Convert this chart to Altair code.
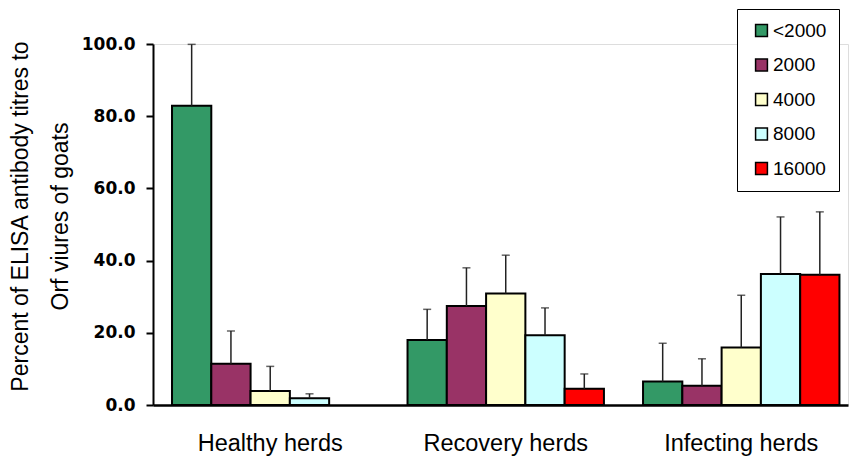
import altair as alt
import pandas as pd

# Percent of goats per ELISA antibody titre class, by herd status
groups = ["Healthy herds", "Recovery herds", "Infecting herds"]
titres = ["<2000", "2000", "4000", "8000", "16000"]
colors = ["#339966", "#993366", "#FFFFCC", "#CCFFFF", "#FF0000"]

healthy_mean = [82.9, 11.4, 3.9, 1.9, None]
healthy_sd = [17.0, 9.1, 6.8, 1.2, None]
recovery_mean = [18.0, 27.4, 30.9, 19.3, 4.5]
recovery_sd = [8.5, 10.6, 10.6, 7.6, 4.1]
infecting_mean = [6.5, 5.3, 15.9, 36.3, 36.1]
infecting_sd = [10.6, 7.5, 14.5, 15.8, 17.4]

rows = []
for g, means, sds in zip(groups,
                         [healthy_mean, recovery_mean, infecting_mean],
                         [healthy_sd, recovery_sd, infecting_sd]):
    for t, m, s in zip(titres, means, sds):
        if m is None:
            continue
        rows.append({"group": g, "titre": t, "mean": m, "upper": m + s})
df = pd.DataFrame(rows)

x_enc = alt.X("group:N", sort=groups,
              scale=alt.Scale(paddingInner=0.166, paddingOuter=0.0585, align=0.69),
              axis=alt.Axis(title=None, labelAngle=0, ticks=False, domainColor="black",
                            domainWidth=2.5, labelFontSize=23.5, labelFont="Liberation Sans",
                            labelColor="black", labelPadding=26))
xo_enc = alt.XOffset("titre:N", sort=titres,
                     scale=alt.Scale(domain=titres, paddingInner=0, paddingOuter=0))

bars = alt.Chart(df).mark_bar(stroke="black", strokeWidth=2).encode(
    x=x_enc,
    xOffset=xo_enc,
    y=alt.Y("mean:Q",
            scale=alt.Scale(domain=[0, 100], nice=False),
            axis=alt.Axis(values=[0, 20, 40, 60, 80, 100], format=".1f", grid=False,
                          domainColor="black", domainWidth=2, tickColor="black",
                          tickWidth=2, tickSize=7, labelFont="DejaVu Sans",
                          labelFontWeight="bold", labelFontSize=17, labelColor="black",
                          labelPadding=11,
                          title=["Percent of ELISA antibody titres to", "Orf viures of goats"],
                          titleFont="Liberation Sans", titleFontSize=23,
                          titleFontWeight="normal", titleColor="black",
                          titleAngle=-90, titleAlign="center", titleBaseline="top",
                          titleX=-144, titleY=172, titleLineHeight=40)),
    color=alt.Color("titre:N", sort=titres,
                    scale=alt.Scale(domain=titres, range=colors),
                    legend=alt.Legend(title=None, orient="none", legendX=584, legendY=-35,
                                      symbolType="square", symbolSize=140,
                                      symbolStrokeColor="black", symbolStrokeWidth=1.5,
                                      labelFont="Liberation Sans", labelFontSize=19,
                                      labelColor="black", labelOffset=2,
                                      rowPadding=14.5, padding=12, symbolOffset=3,
                                      strokeColor="black", fillColor="white")),
)

rules = alt.Chart(df).mark_rule(color="#222222", strokeWidth=1.5).encode(
    x=alt.X("group:N", sort=groups),
    xOffset=alt.XOffset("titre:N", sort=titres),
    y="mean:Q",
    y2="upper:Q",
)

caps = alt.Chart(df).mark_tick(color="#222222", thickness=1.5, size=8).encode(
    x=alt.X("group:N", sort=groups),
    xOffset=alt.XOffset("titre:N", sort=titres),
    y="upper:Q",
)

chart = alt.layer(bars, rules, caps).properties(
    width=695, height=361,
    padding={"left": 153, "top": 44, "right": 2, "bottom": 52},
    autosize=alt.AutoSizeParams(type="none"),
).configure_view(stroke=None).configure_legend(strokeWidth=2).configure(background="white")

chart.save("out.html", embed_options={"renderer": "svg", "actions": False})
